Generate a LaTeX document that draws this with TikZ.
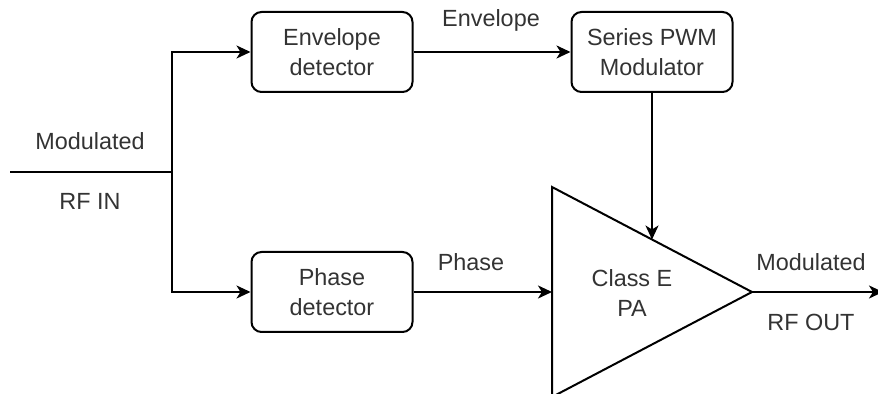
\documentclass[tikz,border=0pt]{standalone}
\usepackage{fontspec}
\setmainfont{Liberation Sans}
\usetikzlibrary{positioning, arrows.meta, calc}
\usepackage{xcolor}
\definecolor{TextGray}{HTML}{333333}

\begin{document}
\begin{tikzpicture}[x=0.5pt, y=-0.5pt, line width=1pt, font=\fontsize{11.7}{15}\selectfont,
    block/.style={draw, rounded corners=5pt, minimum width=80.5pt, minimum height=40pt, align=center, text=TextGray},
    lbl/.style={text=TextGray},
    arr/.style={-{Stealth[length=7pt, width=6.5pt, inset=2pt]}}]
                \useasboundingbox (0,0) rectangle (878,394);
                % Blocks
                \node[block] (env) at (332,52) {Envelope\\detector};
                \node[block] (pwm) at (652,52) {Series PWM\\Modulator};
                \node[block] (phase) at (332,292) {Phase\\detector};
                
                % Class E amplifier
                \coordinate (patop) at (552,187);
                \coordinate (pabot) at (552,397);
                \coordinate (paout) at (752,292);
                \coordinate (pain) at (552,292);
                \draw[line join=miter] (patop) -- (paout) -- (pabot) -- cycle;
                \node[lbl, align=center] (pa) at (632,293) {Class E\\PA};
                
                % Flow
                \coordinate (rfin) at (10,172);
                \coordinate (split) at (172,172);
                \coordinate (rfout) at (883,292);
                \draw (rfin) -- (split);
                \draw[arr] (split) |- (env);
                \draw[arr] (split) |- (phase);
                \draw[arr] (env) -- (pwm);
                \draw[arr] (phase) -- (pain);
                \draw[arr] (pwm) -- ($(patop)!0.5!(paout)$);
                \draw[arr] (paout) -- (rfout);
                
                % Labels
                \node[lbl] (inlbl) at (90,141) {Modulated};
                \node[lbl] (rfinlbl) at (90,201) {RF IN};
                \node[lbl] (envlbl) at (491,20) {Envelope};
                \node[lbl] (phaselbl) at (471,262) {Phase};
                \node[lbl] (outlbl) at (811,262) {Modulated};
                \node[lbl] (rfoutlbl) at (811,322) {RF OUT};
            \end{tikzpicture}
\end{document}
